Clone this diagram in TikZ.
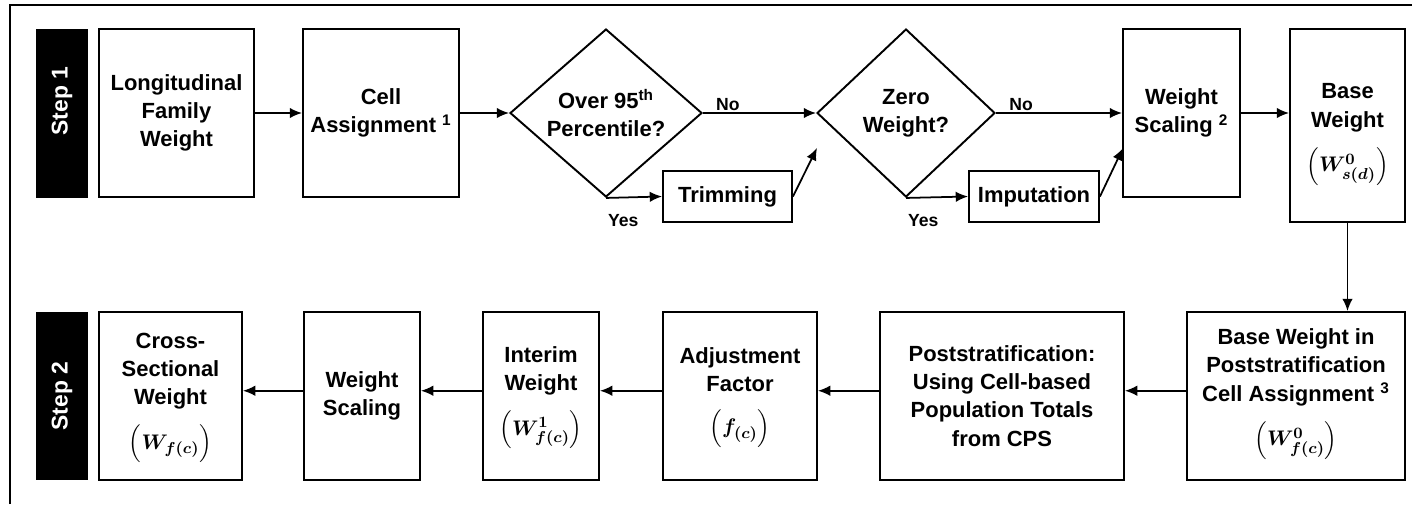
\documentclass[tikz,border=0pt]{standalone}
\usepackage{amsmath}
\usepackage{fontspec}
\setmainfont{Liberation Sans}
\usetikzlibrary{arrows.meta, shapes.geometric}

\tikzset{
    stepbox/.style={draw, line width=1.1pt, align=center, inner sep=1pt, font=\fontsize{12.5}{16}\selectfont\bfseries},
    steptag/.style={fill=black, text=white, rotate=90, inner sep=0pt, minimum width=3.38cm, minimum height=1.04cm, font=\fontsize{13}{15}\selectfont\bfseries},
    decision/.style={diamond, draw, line width=1.1pt, align=center, inner sep=0pt, font=\fontsize{12.5}{16}\selectfont\bfseries},
    branch/.style={inner sep=1pt, font=\fontsize{10}{12}\selectfont\bfseries},
    arr/.style={-{Latex[length=7pt,width=6pt]}, line width=1pt},
}

\begin{document}
\begin{tikzpicture}[x=0.02cm, y=-0.02cm]
    \useasboundingbox (0,0) rectangle (1412,504);
    \draw[line width=1.2pt] (10,504) -- (10,5) -- (1412,5);

%____________________________________________________________________________________________________
    \node[steptag] (step1) at (62,113.5) {\hspace{0.5cm}Step 1};

    \node[stepbox, minimum width=3.1cm, minimum height=3.36cm] (lfw) at (176.5,113) {Longitudinal\\Family\\Weight};
    \node[stepbox, minimum width=3.12cm, minimum height=3.36cm] (cell) at (381,113) {Cell\\Assignment \textsuperscript{1}};
    \node[decision, minimum width=3.84cm, minimum height=3.36cm] (over) at (606,113) {Over 95\textsuperscript{th}\\Percentile?};
    \node[stepbox, minimum width=2.58cm, minimum height=1.02cm] (trim) at (727.5,196.5) {Trimming};
    \node[decision, minimum width=3.56cm, minimum height=3.36cm] (zero) at (906,113) {Zero\\Weight?};
    \node[stepbox, minimum width=2.6cm, minimum height=1.02cm] (imp) at (1034,196.5) {Imputation};
    \node[stepbox, minimum width=2.34cm, minimum height=3.36cm] (scale1) at (1181.5,113) {Weight\\Scaling \textsuperscript{2}};
    \node[stepbox, minimum width=2.3cm, minimum height=3.86cm] (base) at (1347.5,125.5) {\mbox{}\\[3pt]Base\\Weight\\[8pt]$\Bigl(\boldsymbol{W^{0}_{s(d)}}\Bigr)$};

    \coordinate (trimend) at (817,148);
    \coordinate (impend) at (1123,148);

    \draw[arr] (lfw) -- (cell);
    \draw[arr] (cell) -- (over);
    \draw[arr] (over.east) -- node[branch, pos=.22, above] {No} (zero.west);
    \draw[arr] (over.south) -- (trim.west);
    \node[branch, anchor=north west, yshift=-0.28cm] (yes1) at (over.south) {Yes};
    \draw[arr] (trim.east) -- (trimend);
    \draw[arr] (zero.east) -- node[branch, pos=.2, above] {No} (scale1.west);
    \draw[arr] (zero.south) -- (imp.west);
    \node[branch, anchor=north west, yshift=-0.28cm] (yes2) at (zero.south) {Yes};
    \draw[arr] (imp.east) -- (impend);
    \draw[arr] (scale1.east) -- (scale1.east -| base.west);
%____________________________________________________________________________________________________
    \node[steptag] (step2) at (62,396) {Step 2};

    \node[stepbox, minimum width=2.86cm, minimum height=3.36cm] (cross) at (170.5,396) {\mbox{}\\[-5pt]Cross-\\Sectional\\Weight\\[8pt]$\Bigl(\boldsymbol{W_{f(c)}}\Bigr)$};
    \node[stepbox, minimum width=2.32cm, minimum height=3.36cm] (scale2) at (362,396) {Weight\\Scaling};
    \node[stepbox, minimum width=2.32cm, minimum height=3.36cm] (interim) at (541,396) {\mbox{}\\[-5pt]Interim\\Weight\\[8pt]$\Bigl(\boldsymbol{W^{1}_{f(c)}}\Bigr)$};
    \node[stepbox, minimum width=3.08cm, minimum height=3.36cm] (adj) at (740,396) {\mbox{}\\[-5pt]Adjustment\\Factor\\[8pt]$\Bigl(\boldsymbol{f_{(c)}}\Bigr)$};
    \node[stepbox, minimum width=4.88cm, minimum height=3.36cm] (post) at (1002,396) {Poststratification:\\Using Cell-based\\Population Totals\\from CPS};
    \node[stepbox, minimum width=4.36cm, minimum height=3.36cm] (bps) at (1296,396) {\mbox{}\\[-9pt]Base Weight in\\Poststratification\\Cell Assignment \textsuperscript{3}\\[8pt]$\Bigl(\boldsymbol{W^{0}_{f(c)}}\Bigr)$};

    \draw[arr] (base.south) -- (base.south |- bps.north);
    \draw[arr] ([yshift=3pt]bps.west) -- ([yshift=3pt]post.east);
    \draw[arr] ([yshift=3pt]post.west) -- ([yshift=3pt]adj.east);
    \draw[arr] ([yshift=3pt]adj.west) -- ([yshift=3pt]interim.east);
    \draw[arr] ([yshift=3pt]interim.west) -- ([yshift=3pt]scale2.east);
    \draw[arr] ([yshift=3pt]scale2.west) -- ([yshift=3pt]cross.east);
\end{tikzpicture}
\end{document}
